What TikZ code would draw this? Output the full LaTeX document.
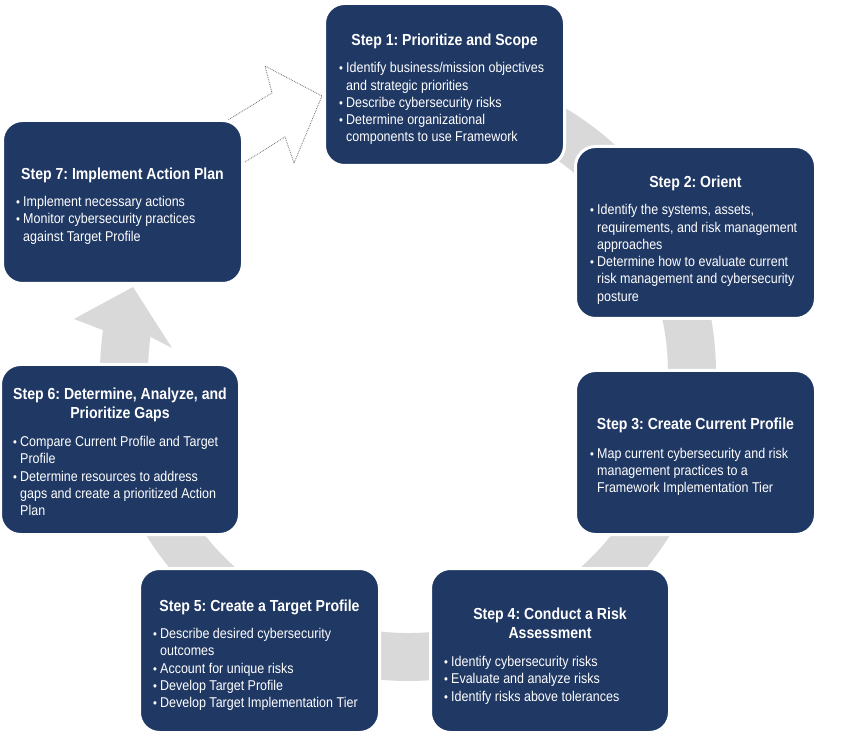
\documentclass[tikz,border=0pt]{standalone}
\usepackage{fontspec}
\setmainfont{Liberation Sans}[FakeStretch=0.88]
\usetikzlibrary{calc}
\frenchspacing
\definecolor{navy}{HTML}{203864}
\definecolor{ringgray}{HTML}{D9D9D9}
\definecolor{dotgray}{HTML}{707070}
\newcommand{\bulsym}{{\fontsize{12.5}{12}\selectfont\textbullet}}
\newcommand{\titfont}{\bfseries\fontsize{16}{18.5}\selectfont}
\newcommand{\bulfont}{\fontsize{14.2}{17.25}\selectfont}
\begin{document}
\begin{tikzpicture}[x=1pt,y=-1pt,
  stepbox/.style={draw=white, line width=3pt, fill=navy, rounded corners=20pt, inner sep=0pt},
  steptitle/.style={text=white, font=\titfont, inner sep=0pt, anchor=base},
  bultext/.style={text=white, font=\bulfont, inner sep=0pt, anchor=base west},
  dotarrow/.style={draw=dotgray, densely dotted, line width=0.8pt}]
\fill[white] (0,0) rectangle (855,751);
\useasboundingbox (0,0) rectangle (855,751);
% gray circular arrow
\coordinate (c) at (408,373);
\coordinate (barbA) at (74,319);
\coordinate (tipA) at (133,287);
\coordinate (barbB) at (172,348);
\fill[ringgray] ($(c)+(90:308pt)$) arc[start angle=90, end angle=-188, radius=308pt]
  -- (barbA) -- (tipA) -- (barbB) -- ($(c)+(-188:260pt)$)
  arc[start angle=-188, end angle=90, radius=260pt] -- cycle;
% dotted outline arrow 7 -> 1
\coordinate (d1) at (245,162);
\coordinate (d2) at (285,137);
\coordinate (d3) at (294,163);
\coordinate (d4) at (322,96);
\coordinate (d5) at (265,66);
\coordinate (d6) at (272,93);
\coordinate (d7) at (228,120);
\draw[dotarrow] (d1) -- (d2) -- (d3) -- (d4) -- (d5) -- (d6) -- (d7);
% boxes
\node[stepbox, minimum width=240pt, minimum height=162pt] (b1) at (444.5,84.5) {};
\node[stepbox, minimum width=240pt, minimum height=172pt] (b2) at (695.5,232.5) {};
\node[stepbox, minimum width=240pt, minimum height=164pt] (b3) at (695.5,452.5) {};
\node[stepbox, minimum width=239pt, minimum height=164pt] (b4) at (550,650.5) {};
\node[stepbox, minimum width=240pt, minimum height=164pt] (b5) at (259.5,650.5) {};
\node[stepbox, minimum width=239pt, minimum height=170pt] (b6) at (120,449.5) {};
\node[stepbox, minimum width=240pt, minimum height=163pt] (b7) at (122.5,202) {};
% titles
\node[steptitle] (t1) at (444.5,46) {Step 1: Prioritize and Scope};
\node[steptitle] (t2) at (695.5,187.5) {Step 2: Orient};
\node[steptitle] (t3) at (695.5,430) {Step 3: Create Current Profile};
\node[steptitle] (t4) at (550,619.7) {\begin{tabular}[t]{@{}c@{}}Step 4: Conduct a Risk\\Assessment\end{tabular}};
\node[steptitle] (t5) at (259.5,611.7) {Step 5: Create a Target Profile};
\node[steptitle] (t6) at (120,400) {\begin{tabular}[t]{@{}c@{}}Step 6: Determine, Analyze, and\\Prioritize Gaps\end{tabular}};
\node[steptitle] (t7) at (122.5,180) {Step 7: Implement Action Plan};
% bullets
\node[bultext] (l1) at (339,73) {\begin{tabular}[t]{@{}p{7pt}@{}l@{}}
\bulsym & Identify business/mission objectives\\
 & and strategic priorities\\
\bulsym & Describe cybersecurity risks\\
\bulsym & Determine organizational\\
 & components to use Framework
\end{tabular}};
\node[bultext] (l2) at (590,215) {\begin{tabular}[t]{@{}p{7pt}@{}l@{}}
\bulsym & Identify the systems, assets,\\
 & requirements, and risk management\\
 & approaches\\
\bulsym & Determine how to evaluate current\\
 & risk management and cybersecurity\\
 & posture
\end{tabular}};
\node[bultext] (l3) at (590,458.3) {\begin{tabular}[t]{@{}p{7pt}@{}l@{}}
\bulsym & Map current cybersecurity and risk\\
 & management practices to a\\
 & Framework Implementation Tier
\end{tabular}};
\node[bultext] (l4) at (444,666.5) {\begin{tabular}[t]{@{}p{7pt}@{}l@{}}
\bulsym & Identify cybersecurity risks\\
\bulsym & Evaluate and analyze risks\\
\bulsym & Identify risks above tolerances
\end{tabular}};
\node[bultext] (l5) at (153,638.5) {\begin{tabular}[t]{@{}p{7pt}@{}l@{}}
\bulsym & Describe desired cybersecurity\\
 & outcomes\\
\bulsym & Account for unique risks\\
\bulsym & Develop Target Profile\\
\bulsym & Develop Target Implementation Tier
\end{tabular}};
\node[bultext] (l6) at (13,446.7) {\begin{tabular}[t]{@{}p{7pt}@{}l@{}}
\bulsym & Compare Current Profile and Target\\
 & Profile\\
\bulsym & Determine resources to address\\
 & gaps and create a prioritized Action\\
 & Plan
\end{tabular}};
\node[bultext] (l7) at (16,206.7) {\begin{tabular}[t]{@{}p{7pt}@{}l@{}}
\bulsym & Implement necessary actions\\
\bulsym & Monitor cybersecurity practices\\
 & against Target Profile
\end{tabular}};
\end{tikzpicture}
\end{document}
